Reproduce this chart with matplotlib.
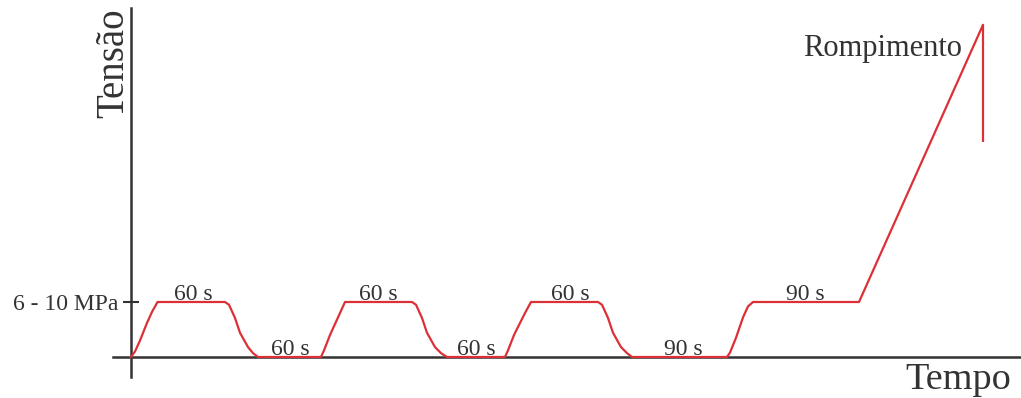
import matplotlib.pyplot as plt

plt.rcParams['font.family'] = ['Liberation Serif', 'DejaVu Serif']

# tempo (unidades arbitrárias) e tensão (1 = patamar de 6 - 10 MPa)
tempo = [0, 4, 9, 16, 21, 26.5,
         94, 98, 104, 109, 117, 122, 127,
         190, 193, 199, 209, 214,
         281, 285, 291, 296, 304, 310, 316,
         374, 377, 383, 394, 400,
         467, 471, 477, 482, 490, 496, 501,
         596, 599, 605, 612, 617, 622,
         728, 852, 852]
tensao = [0, 0.1, 0.3, 0.62, 0.82, 1,
          1, 0.95, 0.71, 0.44, 0.18, 0.07, 0,
          0, 0.12, 0.4, 0.8, 1,
          1, 0.95, 0.71, 0.44, 0.18, 0.07, 0,
          0, 0.12, 0.4, 0.8, 1,
          1, 0.95, 0.71, 0.44, 0.18, 0.07, 0,
          0, 0.08, 0.35, 0.72, 0.92, 1,
          1, 6.04, 3.93]

# rótulos das durações
dur_txt = ['60 s', '60 s', '60 s', '60 s', '60 s', '90 s', '90 s']
dur_x = [62, 159, 247, 345, 439, 552, 674]
dur_y = [1, 0, 1, 0, 1, 0, 1]

cor = '#333333'
vermelho = '#dc3037'

fig = plt.figure(figsize=(10.21, 3.98), dpi=100)
ax = fig.add_axes([131 / 1021, 41 / 398, 890 / 1021, 349 / 398])
ax.set_xlim(0, 890)
ax.set_ylim(0, 349 / 55)
for s in ax.spines.values():
    s.set_visible(False)

# eixos
ax.plot([0, 0], [-20 / 55, 349 / 55], color=cor, lw=1.8, clip_on=False)
ax.plot([-18, 890], [0, 0], color=cor, lw=1.8, clip_on=False)

ax.plot(tempo, tensao, color=vermelho, lw=1.6, clip_on=False,
        solid_joinstyle='round', zorder=3)

ax.set_xticks([])
ax.set_yticks([1])
ax.set_yticklabels(['6 - 10 MPa'])
ax.tick_params(axis='y', direction='inout', length=12, width=1.5,
               color=cor, labelcolor=cor, labelsize=17, pad=3)

for t, x, y in zip(dur_txt, dur_x, dur_y):
    ax.text(x, y + 0.04, t, ha='center', va='baseline', fontsize=17, color=cor)

ax.text(831, 5.47, 'Rompimento', ha='right', va='baseline', fontsize=22, color=cor)
ax.text(827, -0.58, 'Tempo', ha='center', va='baseline', fontsize=27.5,
        color=cor, clip_on=False)
ax.text(-8, 6.33, 'Tensão', ha='right', va='baseline', rotation=90,
        rotation_mode='anchor', fontsize=28, color=cor, clip_on=False)

fig.savefig('out.png', dpi=100)
